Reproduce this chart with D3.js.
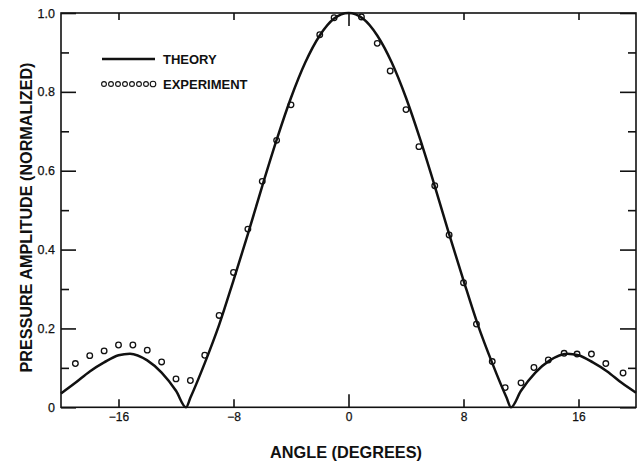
<!DOCTYPE html>
<html>
<head>
<meta charset="utf-8">
<script src="https://cdn.jsdelivr.net/npm/d3@7"></script>
<style>
  html, body { margin: 0; padding: 0; background: #fff; }
  svg { display: block; }
  text { font-family: "Liberation Sans", Arial, Helvetica, sans-serif; fill: #111; }
</style>
</head>
<body>
<svg id="chart" width="639" height="461"></svg>
<script>
// ---- data ----
const theoryAngle = [-20,-19,-18,-17,-16,-15.2,-14,-13,-12,-11.3,-11,-10,-9,-8,-7,-6,-5,-4,-3,-2,-1,0,
                     1,2,3,4,5,6,7,8,9,10,11,11.3,12,13,14,15.2,16,17,18,19,20];
const theoryAmp   = [0.035,0.062,0.091,0.114,0.132,0.136,0.119,0.088,0.042,0.0,0.024,0.112,0.209,0.322,0.439,0.561,0.678,0.785,0.875,0.943,0.986,1.0,
                     0.986,0.943,0.875,0.785,0.678,0.561,0.439,0.322,0.209,0.112,0.024,0.0,0.042,0.088,0.119,0.136,0.132,0.114,0.091,0.062,0.037];

const expAngle = [-19.0,-18.0,-17.0,-16.0,-15.0,-14.0,-13.0,-12.0,-11.0,-10.0,-9.0,-8.0,-7.0,-6.0,-5.0,-4.0,-2.0,-1.0,
                  0.9,2.0,2.9,4.0,4.9,6.0,7.0,8.0,8.9,10.0,10.9,12.0,12.9,13.9,15.0,15.9,16.9,17.9,19.1];
const expAmp   = [0.111,0.131,0.143,0.158,0.158,0.145,0.115,0.072,0.068,0.132,0.233,0.342,0.452,0.573,0.677,0.767,0.945,0.988,
                  0.990,0.923,0.853,0.755,0.661,0.562,0.437,0.316,0.211,0.116,0.050,0.062,0.101,0.120,0.137,0.135,0.135,0.111,0.087];

const xTicks = [-16,-8,0,8,16];
const yTicksMajor = [0,0.2,0.4,0.6,0.8,1.0];
const yTicksMinor = [0.1,0.3,0.5,0.7,0.9];

const legendLabels = ["THEORY","EXPERIMENT"];
const xTitle = "ANGLE (DEGREES)";
const yTitle = "PRESSURE AMPLITUDE (NORMALIZED)";

// ---- layout ----
const L = 61, R = 636, T = 13, B = 407.3;
const svg = d3.select("#chart");
const x = d3.scaleLinear().domain([-20, 20]).range([L, R]);
const y = d3.scaleLinear().domain([0, 1]).range([B, T]);

// frame
svg.append("rect").attr("x", L).attr("y", T).attr("width", R - L).attr("height", B - T)
  .attr("fill", "none").attr("stroke", "#111").attr("stroke-width", 1.6);

// bottom axis
const gB = svg.append("g").attr("transform", `translate(0,${B})`)
  .call(d3.axisBottom(x).tickValues(xTicks).tickSize(-8).tickPadding(5.5)
        .tickFormat(d => d < 0 ? "\u2212" + Math.abs(d) : String(d)));
gB.select(".domain").remove();
gB.selectAll(".tick line").attr("stroke", "#111").attr("stroke-width", 1.6)
  .attr("y2", d => d === 0 ? -13 : -8);
gB.selectAll(".tick text").attr("font-size", 12).attr("fill", "#111")
  .attr("stroke", "#111").attr("stroke-width", 0.25);

// top axis (ticks only)
const gT = svg.append("g").attr("transform", `translate(0,${T})`)
  .call(d3.axisTop(x).tickValues(xTicks).tickSize(-7).tickFormat(""));
gT.select(".domain").remove();
gT.selectAll(".tick line").attr("stroke", "#111").attr("stroke-width", 1.6)
  .attr("y2", d => d === 0 ? 13 : 7);

// left axis
const gL = svg.append("g").attr("transform", `translate(${L},0)`)
  .call(d3.axisLeft(y).tickValues(yTicksMajor).tickSize(-15).tickPadding(6)
        .tickFormat(d => d === 0 ? "0" : d3.format(".1f")(d)));
gL.select(".domain").remove();
gL.selectAll(".tick line").attr("stroke", "#111").attr("stroke-width", 1.6);
gL.selectAll(".tick text").attr("font-size", 12.5).attr("fill", "#111")
  .attr("stroke", "#111").attr("stroke-width", 0.25);
const gLm = svg.append("g").attr("transform", `translate(${L},0)`)
  .call(d3.axisLeft(y).tickValues(yTicksMinor).tickSize(-8).tickFormat(""));
gLm.select(".domain").remove();
gLm.selectAll(".tick line").attr("stroke", "#111").attr("stroke-width", 1.6);

// right axis (ticks only)
const gR = svg.append("g").attr("transform", `translate(${R},0)`)
  .call(d3.axisRight(y).tickValues(yTicksMajor).tickSize(-16).tickFormat(""));
gR.select(".domain").remove();
gR.selectAll(".tick line").attr("stroke", "#111").attr("stroke-width", 1.6);
const gRm = svg.append("g").attr("transform", `translate(${R},0)`)
  .call(d3.axisRight(y).tickValues(yTicksMinor).tickSize(-8).tickFormat(""));
gRm.select(".domain").remove();
gRm.selectAll(".tick line").attr("stroke", "#111").attr("stroke-width", 1.6);

// theory curve
const theory = theoryAngle.map((a, i) => ({a, v: theoryAmp[i]}));
const line = d3.line().x(d => x(d.a)).y(d => y(d.v)).curve(d3.curveMonotoneX);
svg.append("path").datum(theory).attr("d", line)
  .attr("fill", "none").attr("stroke", "#111").attr("stroke-width", 2.5)
  .attr("stroke-linejoin", "round");

// experiment points
const exp = expAngle.map((a, i) => ({a, v: expAmp[i]}));
svg.append("g").selectAll("circle").data(exp).join("circle")
  .attr("cx", d => x(d.a)).attr("cy", d => y(d.v)).attr("r", 2.8)
  .attr("fill", "none").attr("stroke", "#111").attr("stroke-width", 1.3);

// legend
const lg = svg.append("g");
lg.append("line").attr("x1", 102).attr("x2", 155).attr("y1", 59).attr("y2", 59)
  .attr("stroke", "#111").attr("stroke-width", 2.5);
lg.append("text").attr("x", 163).attr("y", 63.5).attr("font-size", 13).attr("font-weight", "bold")
  .text(legendLabels[0]);
lg.selectAll("circle").data(d3.range(8)).join("circle")
  .attr("cx", i => 104 + i * 7).attr("cy", 84).attr("r", i => i === 7 ? 2.8 : 2.4)
  .attr("fill", "none").attr("stroke", "#111").attr("stroke-width", 1.1);
lg.append("text").attr("x", 163).attr("y", 88.5).attr("font-size", 13).attr("font-weight", "bold")
  .text(legendLabels[1]);

// axis titles
svg.append("text").attr("x", 346).attr("y", 458).attr("text-anchor", "middle")
  .attr("font-size", 16.5).attr("font-weight", "bold")
  .attr("textLength", 152).attr("lengthAdjust", "spacingAndGlyphs")
  .text(xTitle);
svg.append("text").attr("transform", "translate(32,217.5) rotate(-90)")
  .attr("text-anchor", "middle").attr("font-size", 17).attr("font-weight", "bold")
  .attr("textLength", 310).attr("lengthAdjust", "spacingAndGlyphs")
  .text(yTitle);
</script>
</body>
</html>
